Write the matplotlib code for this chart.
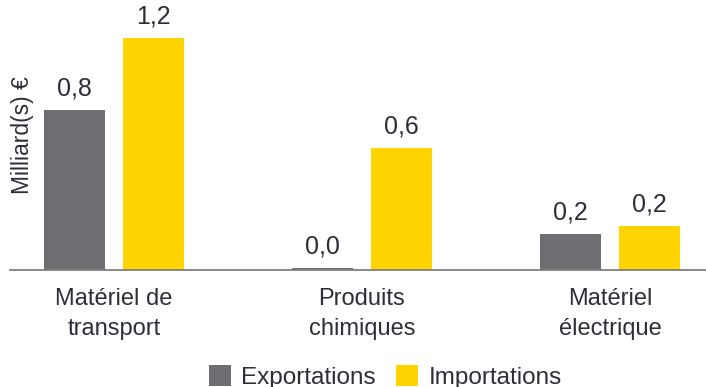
import numpy as np
import matplotlib
matplotlib.use('Agg')
import matplotlib.pyplot as plt

categories = ['Matériel de\ntransport', 'Produits\nchimiques', 'Matériel\nélectrique']
exportations = [0.80, 0.01, 0.18]
importations = [1.16, 0.61, 0.22]
series_names = ['Exportations', 'Importations']

GRIS = '#6d6e71'
JAUNE = '#ffd400'
TEXTE = '#2e2e38'

plt.rcParams['font.family'] = ['Liberation Sans', 'DejaVu Sans']

fig = plt.figure(figsize=(7.06, 3.87), dpi=100)
ax = fig.add_axes([0.0142, 0.3023, 0.9858, 0.646])

x = np.arange(len(categories))
largeur = 0.246
decal = 0.159

b1 = ax.bar(x - decal, exportations, largeur, color=GRIS, label=series_names[0])
b2 = ax.bar(x + decal, importations, largeur, color=JAUNE, label=series_names[1])

# etiquettes de valeur, virgule decimale
for barres in (b1, b2):
    for rect in barres:
        h = rect.get_height()
        ax.annotate(f'{h:.1f}'.replace('.', ','),
                    (rect.get_x() + rect.get_width() / 2, h),
                    xytext=(0, 7), textcoords='offset points',
                    ha='center', va='bottom', fontsize=18, color=TEXTE)

ax.set_xlim(-0.419, 2.387)
ax.set_ylim(0, 1.25)
ax.set_xticks(x)
ax.set_xticklabels(categories, fontsize=17, color=TEXTE, linespacing=1.45)
ax.tick_params(axis='x', length=0, pad=13)
ax.set_yticks([])

for s in ('top', 'right', 'left'):
    ax.spines[s].set_visible(False)
ax.spines['bottom'].set_color('#808080')
ax.spines['bottom'].set_linewidth(1.3)

fig.text(22 / 706, 0.65, 'Milliard(s) €', rotation=90, ha='center', va='center',
         fontsize=16.5, color=TEXTE)

fig.legend(handles=[b1, b2], labels=series_names, loc='upper left',
           bbox_to_anchor=(209 / 706, 0.056), ncol=2, frameon=False,
           fontsize=17.5, handlelength=0.9, handleheight=0.9,
           handletextpad=0.42, columnspacing=0.85, borderpad=0,
           borderaxespad=0, labelcolor=TEXTE)

fig.savefig('out.png', dpi=100)
